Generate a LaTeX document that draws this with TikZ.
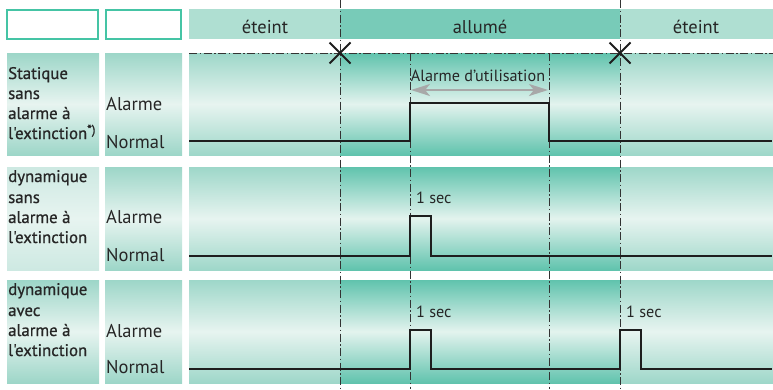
\documentclass[tikz,border=0pt]{standalone}
\usepackage{fontspec}
\setmainfont{PT Sans}
\newfontface\modefont[FakeBold=0.8]{PT Sans}
\usetikzlibrary{arrows.meta,calc}
\definecolor{txt}{HTML}{262626}
\definecolor{sigcol}{HTML}{1E1E1E}
\definecolor{ddcol}{HTML}{333333}
\definecolor{hoff}{HTML}{AFDFD2}
\definecolor{hon}{HTML}{78CBB8}
\definecolor{offedge}{HTML}{9ED7C9}
\definecolor{offmid}{HTML}{E7F4F0}
\definecolor{onedge}{HTML}{60C3AD}
\definecolor{onmid}{HTML}{E3F3EE}
\definecolor{lbedge}{HTML}{9DD6C8}
\definecolor{lbmid}{HTML}{E7F4F0}
\definecolor{lbedgeb}{HTML}{CDE9E2}
\definecolor{brd}{HTML}{45C4A5}
\definecolor{arr}{HTML}{A8A8A8}
\tikzset{
  cell/.style={anchor=north west, inner sep=0pt, outer sep=0pt},
  offcell/.style={cell, top color=offedge, bottom color=offedge, middle color=offmid},
  oncell/.style={cell, top color=onedge, bottom color=onedge, middle color=onmid},
  labcell/.style={cell, top color=lbedge, bottom color=lbedge, middle color=lbmid},
  labcellb/.style={cell, top color=lbedgeb, bottom color=lbedgeb, middle color=lbmid},
  emptybox/.style={cell, draw=brd, line width=1.3pt, fill=white},
  hdrbox/.style={cell, minimum height=30pt},
  hdr/.style={anchor=base, inner sep=0pt, font=\fontsize{18.5}{20}\selectfont, text=txt},
  state/.style={anchor=base west, inner sep=0pt, font=\fontsize{18.5}{20}\selectfont, text=txt},
  mode/.style={anchor=base west, inner sep=0pt, font=\modefont\fontsize{16.8}{20}\selectfont, text=txt},
  small/.style={inner sep=0pt, font=\fontsize{16.2}{18}\selectfont, text=txt},
  sig/.style={line width=2.5pt, draw=sigcol, line join=miter},
  dd/.style={line width=0.9pt, draw=ddcol, dash pattern=on 8pt off 2.5pt on 1.5pt off 2.5pt},
  cross/.style={line width=1.9pt, draw=sigcol},
  span/.style={line width=2.4pt, draw=arr, {Stealth[length=19pt,width=12pt,inset=5pt]}-{Stealth[length=19pt,width=12pt,inset=5pt]}}
}
\begin{document}
\begin{tikzpicture}[x=1pt,y=-1pt]
\useasboundingbox (0,0) rectangle (773,389);
% header row
\node[emptybox, minimum width=91pt, minimum height=29pt] (e1) at (7,10) {};
\node[emptybox, minimum width=75pt, minimum height=29pt] (e2) at (106,10) {};
\node[hdrbox, fill=hoff, minimum width=151pt] (h1) at (189,9) {};
\node[hdrbox, fill=hon, minimum width=280pt] (h2) at (340,9) {};
\node[hdrbox, fill=hoff, minimum width=153pt] (h3) at (620,9) {};
\node[hdr] (h1t) at (265,33) {éteint};
\node[hdr] (h2t) at (480,33) {allumé};
\node[hdr] (h3t) at (696,33) {éteint};
% rows
\foreach \r/\y/\h/\lst in {1/53/102/labcell, 2/167/103/labcellb, 3/280/103/labcell}{
  \node[\lst, minimum width=92pt, minimum height=\h pt] (m\r) at (7,\y) {};
  \node[labcell, minimum width=77pt, minimum height=\h pt] (s\r) at (105,\y) {};
  \node[offcell, minimum width=151pt, minimum height=\h pt] (a\r) at (189,\y) {};
  \node[oncell, minimum width=280pt, minimum height=\h pt] (b\r) at (340,\y) {};
  \node[offcell, minimum width=153pt, minimum height=\h pt] (c\r) at (620,\y) {};
}
% mode labels
\node[mode] (t1a) at (8,79) {Statique};
\node[mode] (t1b) at (8,99) {sans};
\node[mode] (t1c) at (8,119) {alarme à};
\node[mode] (t1d) at (8,139) {l'extinction\raisebox{5pt}{\fontsize{13}{14}\selectfont *)}};
\node[mode] (t2a) at (8,182) {dynamique};
\node[mode] (t2b) at (8,203) {sans};
\node[mode] (t2c) at (8,223) {alarme à};
\node[mode] (t2d) at (8,243) {l'extinction};
\node[mode] (t3a) at (8,295) {dynamique};
\node[mode] (t3b) at (8,316) {avec};
\node[mode] (t3c) at (8,336) {alarme à};
\node[mode] (t3d) at (8,356) {l'extinction};
% state labels
\node[state] (al1) at (106,110) {Alarme};
\node[state] (no1) at (106,148) {Normal};
\node[state] (al2) at (106,223) {Alarme};
\node[state] (no2) at (106,261) {Normal};
\node[state] (al3) at (106,337) {Alarme};
\node[state] (no3) at (106,373) {Normal};
% dash-dot guides
\coordinate (v1t) at (340,0); \coordinate (v1b) at (340,389);
\coordinate (v2t) at (410,53); \coordinate (v2b) at (410,389);
\coordinate (v3t) at (549,53); \coordinate (v3b) at (549,389);
\coordinate (v4t) at (620,0); \coordinate (v4b) at (620,389);
\coordinate (hl) at (189,53); \coordinate (hr) at (773,53);
\draw[dd] (hl) -- (hr);
\draw[dd] (v1t) -- (v1b);
\draw[dd] (v2t) -- (v2b);
\draw[dd] (v3t) -- (v3b);
\draw[dd] (v4t) -- (v4b);
% crosses
\coordinate (x1) at (340,53); \coordinate (x2) at (620,53);
\foreach \c in {x1,x2}{
  \draw[cross] ($(\c)+(-10.5,-10.5)$) -- ($(\c)+(10.5,10.5)$);
  \draw[cross] ($(\c)+(-10.5,10.5)$) -- ($(\c)+(10.5,-10.5)$);
}
% signals
\draw[sig] (189,141) -- (410,141) -- (410,103) -- (549,103) -- (549,141) -- (772,141);
\draw[sig] (189,256) -- (410,256) -- (410,216) -- (431,216) -- (431,256) -- (772,256);
\draw[sig] (189,369) -- (410,369) -- (410,330) -- (431,330) -- (431,369) -- (620,369) -- (620,330) -- (641,330) -- (641,369) -- (772,369);
% annotation
\node[small, anchor=base] (au) at (478,81) {Alarme d'utilisation};
\coordinate (pa) at (411,90); \coordinate (pb) at (548,90);
\draw[span] (pa) -- (pb);
\node[small, anchor=base west] (s1) at (416,203) {1 sec};
\node[small, anchor=base west] (s2) at (416,317) {1 sec};
\node[small, anchor=base west] (s3) at (626,317) {1 sec};
\end{tikzpicture}
\end{document}
